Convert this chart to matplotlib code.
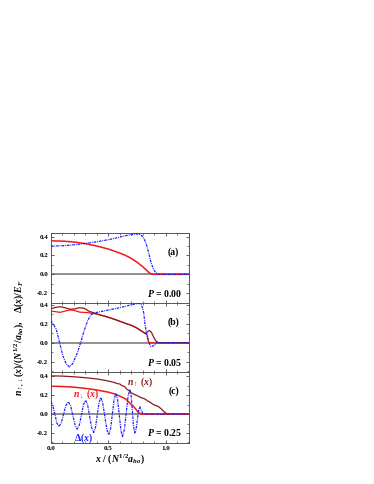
import numpy as np
import matplotlib
matplotlib.use("Agg")
import matplotlib.pyplot as plt
from matplotlib.ticker import MultipleLocator

plt.rcParams['font.family'] = ['Liberation Serif', 'DejaVu Serif']
plt.rcParams['font.weight'] = 'bold'
plt.rcParams['mathtext.fontset'] = 'custom'
plt.rcParams['mathtext.rm'] = 'Liberation Serif:bold'
plt.rcParams['mathtext.it'] = 'Liberation Serif:italic:bold'
plt.rcParams['mathtext.bf'] = 'Liberation Serif:bold'

# ---------- panel (a): P = 0.00 ----------
xa_n = [0.0, 0.1, 0.2, 0.3, 0.4, 0.5, 0.6, 0.65, 0.7, 0.75, 0.8, 0.83, 0.86, 0.88, 0.9, 1.2]
na = [0.355, 0.352, 0.343, 0.325, 0.300, 0.268, 0.225, 0.200, 0.168, 0.128, 0.080, 0.045, 0.012, 0.002, 0.0, 0.0]
xa_d = [0.0, 0.05, 0.1, 0.15, 0.2, 0.25, 0.3, 0.35, 0.4, 0.45, 0.5, 0.55, 0.6, 0.65, 0.7, 0.74,
        0.77, 0.79, 0.81, 0.83, 0.85, 0.87, 0.89, 0.91, 0.93, 0.95, 1.2]
da = [0.300, 0.301, 0.303, 0.307, 0.313, 0.320, 0.328, 0.336, 0.345, 0.356, 0.367, 0.380, 0.395,
      0.410, 0.420, 0.427, 0.425, 0.410, 0.380, 0.320, 0.230, 0.130, 0.060, 0.020, 0.005, 0.0, 0.0]

# ---------- panel (b): P = 0.05 ----------
xb_up = [0.0, 0.04, 0.08, 0.12, 0.17, 0.21, 0.25, 0.29, 0.33, 0.37, 0.4, 0.45, 0.5, 0.55, 0.6,
         0.65, 0.7, 0.75, 0.78, 0.8, 0.82, 0.836, 0.856, 0.874, 0.894, 0.914, 0.937, 1.2]
nb_up = [0.360, 0.375, 0.382, 0.372, 0.355, 0.360, 0.372, 0.365, 0.335, 0.318, 0.305, 0.288, 0.270,
         0.250, 0.228, 0.205, 0.185, 0.155, 0.130, 0.115, 0.100, 0.112, 0.130, 0.112, 0.060, 0.018, 0.0, 0.0]
xb_dn = [0.0, 0.04, 0.08, 0.12, 0.17, 0.21, 0.25, 0.29, 0.33, 0.37, 0.4, 0.45, 0.5, 0.55, 0.6,
         0.65, 0.7, 0.75, 0.78, 0.8, 0.82, 0.836, 0.85, 0.87, 1.2]
nb_dn = [0.335, 0.330, 0.322, 0.335, 0.348, 0.340, 0.325, 0.322, 0.318, 0.310, 0.305, 0.288, 0.270,
         0.250, 0.228, 0.205, 0.185, 0.155, 0.130, 0.115, 0.100, 0.084, 0.007, 0.0, 0.0]
xb_d = [0.0, 0.046, 0.075, 0.103, 0.132, 0.161, 0.19, 0.233, 0.26, 0.29, 0.32, 0.348, 0.376, 0.5,
        0.6, 0.69, 0.765, 0.79, 0.807, 0.82, 0.836, 0.85, 0.87, 0.894, 0.92, 1.2]
db = [0.235, 0.147, 0.007, -0.133, -0.220, -0.256, -0.220, -0.100, 0.007, 0.130, 0.235, 0.295, 0.316,
      0.347, 0.372, 0.400, 0.418, 0.400, 0.320, 0.180, 0.077, 0.007, -0.040, -0.030, 0.0, 0.0]

# ---------- panel (c): P = 0.25 ----------
xc_up = [0.0, 0.1, 0.2, 0.3, 0.4, 0.5, 0.55, 0.58, 0.6, 0.62, 0.64, 0.66, 0.68, 0.7, 0.72, 0.74,
         0.76, 0.78, 0.8, 0.82, 0.84, 0.86, 0.88, 0.9, 0.92, 0.94, 0.96, 0.98, 1.0, 1.02, 1.2]
nc_up = [0.405, 0.402, 0.395, 0.385, 0.372, 0.350, 0.335, 0.322, 0.318, 0.300, 0.292, 0.265, 0.248,
         0.225, 0.212, 0.200, 0.190, 0.176, 0.168, 0.158, 0.140, 0.128, 0.110, 0.095, 0.088, 0.075,
         0.055, 0.030, 0.010, 0.0, 0.0]
xc_dn = [0.0, 0.1, 0.2, 0.3, 0.4, 0.5, 0.55, 0.6, 0.65, 0.68, 0.7, 0.72, 0.74, 0.76, 0.78, 0.8, 1.2]
nc_dn = [0.295, 0.292, 0.285, 0.272, 0.255, 0.232, 0.215, 0.190, 0.160, 0.125, 0.100, 0.080, 0.050,
         0.020, 0.003, 0.0, 0.0]
xc_d = [0.000, 0.017, 0.035, 0.052, 0.069, 0.090, 0.110, 0.131, 0.152, 0.172, 0.191, 0.211, 0.230,
        0.248, 0.266, 0.284, 0.302, 0.320, 0.337, 0.355, 0.372, 0.388, 0.403, 0.419, 0.434, 0.451,
        0.469, 0.486, 0.503, 0.519, 0.535, 0.550, 0.566, 0.580, 0.595, 0.609, 0.623, 0.639, 0.655,
        0.671, 0.687, 0.698, 0.709, 0.719, 0.730, 0.741, 0.752, 0.762, 0.773, 0.785, 0.800, 0.820, 1.2]
dc = [0.130, 0.092, -0.002, -0.095, -0.133, -0.095, -0.002, 0.092, 0.130, 0.088, -0.015, -0.118,
      -0.160, -0.115, -0.007, 0.102, 0.147, 0.097, -0.025, -0.146, -0.196, -0.142, -0.010, 0.121,
      0.175, 0.117, -0.022, -0.162, -0.220, -0.156, 0.0, 0.156, 0.220, 0.153, -0.010, -0.173,
      -0.240, -0.167, 0.010, 0.187, 0.260, 0.193, 0.030, -0.133, -0.200, -0.159, -0.062, 0.036,
      0.077, 0.040, 0.005, 0.0, 0.0]

pol_labels = ['0.00', '0.05', '0.25']
panel_tags = ['(a)', '(b)', '(c)']
ylims = [(-0.305, 0.44), (-0.305, 0.42), (-0.305, 0.45)]

red = '#f01818'
darkred = '#8e1a1a'
blue = '#1a1aff'
dash = (0, (2.0, 0.8, 0.7, 0.8))

fig = plt.figure(figsize=(3.74, 4.84), dpi=100)
gs = fig.add_gridspec(3, 1, left=0.136, right=0.505, bottom=0.085, top=0.519, hspace=0,
                      height_ratios=[y[1] - y[0] for y in ylims])
axes = [fig.add_subplot(gs[i]) for i in range(3)]

for ax in axes:
    ax.axhline(0, color='#888888', lw=1.3, zorder=1)

# (a)
axes[0].plot(xa_n, na, color=red, lw=1.1, zorder=3)
axes[0].plot(xa_d, da, color=blue, lw=0.9, ls=dash, zorder=4)
# (b)
axes[1].plot(xb_dn, nb_dn, color=red, lw=0.9, zorder=3)
axes[1].plot(xb_up, nb_up, color=darkred, lw=0.9, zorder=3)
axes[1].plot(xb_d, db, color=blue, lw=0.9, ls=dash, zorder=4)
# (c)
axes[2].plot(xc_up, nc_up, color=darkred, lw=0.9, zorder=3)
axes[2].plot(xc_dn, nc_dn, color=red, lw=1.1, zorder=3)
axes[2].plot(xc_d, dc, color=blue, lw=0.9, ls=dash, zorder=4)

axes[2].text(0.19, 0.185, r'$n_{\downarrow}\ (x)$', color=red, fontsize=7)
axes[2].text(0.66, 0.31, r'$n_{\uparrow}\ (x)$', color=darkred, fontsize=7)
axes[2].text(0.20, -0.28, r'$\Delta(x)$', color=blue, fontsize=7)

for i, ax in enumerate(axes):
    ax.set_xlim(0, 1.2)
    ax.set_ylim(*ylims[i])
    ax.xaxis.set_major_locator(MultipleLocator(0.5))
    ax.xaxis.set_minor_locator(MultipleLocator(0.1))
    ax.yaxis.set_major_locator(MultipleLocator(0.2))
    ax.yaxis.set_minor_locator(MultipleLocator(0.1))
    ax.tick_params(which='both', direction='in', top=True, right=True, color='#444444',
                   labelsize=5, pad=2)
    ax.tick_params(which='major', length=2.5, width=0.6)
    ax.tick_params(which='minor', length=1.5, width=0.5)
    for s in ax.spines.values():
        s.set_linewidth(0.7)
        s.set_color('#555555')
    ax.set_yticks([-0.2, 0.0, 0.2, 0.4])
    ax.set_yticklabels(['-0.2', '0.0', '0.2', '0.4'])
    if i < 2:
        ax.tick_params(labelbottom=False)
    ax.text(0.93, 0.72, panel_tags[i], transform=ax.transAxes, ha='right', va='center',
            fontsize=7, fontweight='bold')
    ax.text(0.95, 0.14, r'$P$ = ' + pol_labels[i], transform=ax.transAxes, ha='right',
            va='center', fontsize=7, fontweight='bold')

axes[2].set_xticks([0.0, 0.5, 1.0])
axes[2].set_xticklabels(['0.0', '0.5', '1.0'])

fig.text(0.052, 1 - 338 / 484,
         r'$n_{\uparrow,\downarrow}(x)/(N^{1/2}/a_{ho}),\ \ \ \Delta(x)/E_F$',
         rotation=90, ha='center', va='center', fontsize=7)
fig.text(0.32, 1 - 459 / 484, r'$x\ /\ (N^{1/2}a_{ho})$', ha='center', va='center', fontsize=7)

fig.savefig('out.png', dpi=100)
